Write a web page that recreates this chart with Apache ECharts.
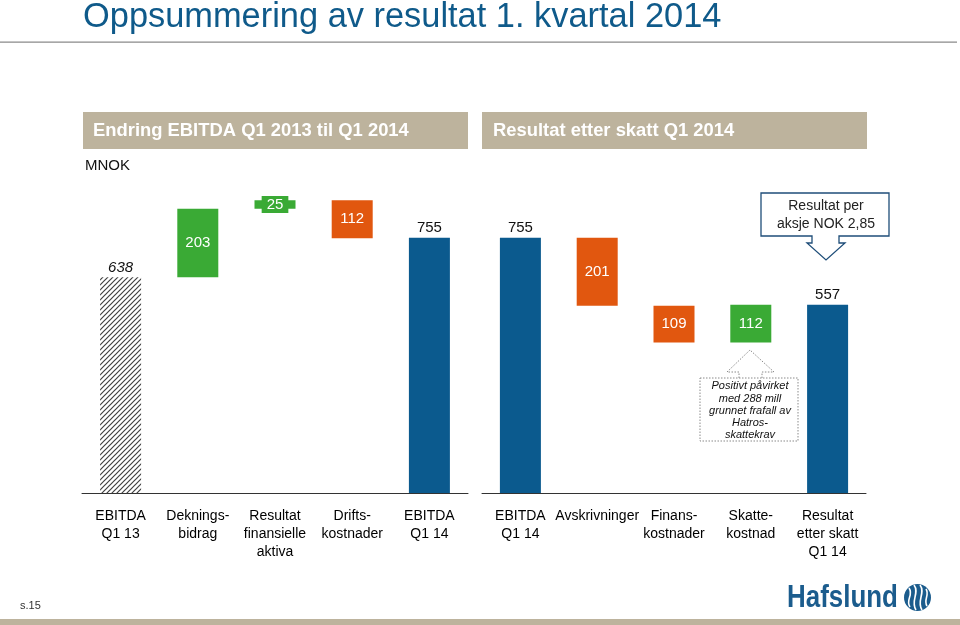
<!DOCTYPE html>
<html>
<head>
<meta charset="utf-8">
<style>
  html, body { margin: 0; padding: 0; background: #ffffff; }
  #chart { width: 960px; height: 625px; }
</style>
<script src="https://cdn.jsdelivr.net/npm/echarts@6/dist/echarts.min.js"></script>
</head>
<body>
<div id="chart"></div>
<script>
// ---------- data ----------
const leftCategories = ['EBITDA\nQ1 13', 'Deknings-\nbidrag', 'Resultat\nfinansielle\naktiva', 'Drifts-\nkostnader', 'EBITDA\nQ1 14'];
const leftValues = [638, 203, 25, -112, 755];
const leftKinds = ['total', 'delta', 'delta', 'delta', 'total'];

const rightCategories = ['EBITDA\nQ1 14', 'Avskrivninger', 'Finans-\nkostnader', 'Skatte-\nkostnad', 'Resultat\netter skatt\nQ1 14'];
const rightValues = [755, -201, -109, 112, 557];
const rightKinds = ['total', 'delta', 'delta', 'delta', 'total'];

const titleText = 'Oppsummering av resultat 1. kvartal 2014';
const leftHeader = 'Endring EBITDA Q1 2013 til Q1 2014';
const rightHeader = 'Resultat etter skatt Q1 2014';
const unitText = 'MNOK';
const epsNote = 'Resultat per\naksje NOK 2,85';
const taxNote = 'Positivt påvirket\nmed 288 mill\ngrunnet frafall av\nHatros-\nskattekrav';

// ---------- styles ----------
const FONT = '"Liberation Sans", Arial, Helvetica, sans-serif';
const BLUE = '#0B5A8E';
const GREEN = '#3AAA35';
const ORANGE = '#E1570F';
const TAN = '#BDB39D';

function hatchPattern() {
  const s = 5;
  const c = document.createElement('canvas');
  c.width = s; c.height = s;
  const g = c.getContext('2d');
  g.fillStyle = '#ffffff';
  g.fillRect(0, 0, s, s);
  g.strokeStyle = '#404040';
  g.lineWidth = 1.2;
  g.beginPath();
  g.moveTo(-1, s + 1); g.lineTo(s + 1, -1);
  g.moveTo(-1, 1); g.lineTo(1, -1);
  g.moveTo(s - 1, s + 1); g.lineTo(s + 1, s - 1);
  g.stroke();
  return { image: c, repeat: 'repeat' };
}

function waterfall(values, kinds, hatchFirst) {
  const base = [], bars = [];
  let running = 0;
  values.forEach((v, i) => {
    let b, h, color, label;
    if (kinds[i] === 'total') {
      running = v; b = 0; h = v;
      color = BLUE;
      label = { show: true, position: 'top', distance: 2, color: '#111', fontSize: 15, fontFamily: FONT };
      if (hatchFirst && i === 0) {
        color = hatchPattern();
        label.fontStyle = 'italic';
      }
    } else {
      if (v >= 0) { b = running; h = v; color = GREEN; }
      else { b = running + v; h = -v; color = ORANGE; }
      running += v;
      label = { show: true, position: 'inside', color: '#fff', fontSize: 15, fontFamily: FONT };
      if (h < 40) {
        label.backgroundColor = color;
        label.padding = [1, 5, 1, 5];
      }
    }
    base.push(b);
    bars.push({ value: h, itemStyle: { color: color }, label: label });
  });
  return { base, bars };
}

const L = waterfall(leftValues, leftKinds, true);
const R = waterfall(rightValues, rightKinds, false);

const axisLabelStyle = { interval: 0, color: '#000', fontSize: 14, lineHeight: 18, margin: 14, fontFamily: FONT };

const chart = echarts.init(document.getElementById('chart'));
chart.setOption({
  animation: false,
  backgroundColor: '#ffffff',
  grid: [
    { left: 82, width: 386, top: 155, bottom: 132 },
    { left: 482, width: 384, top: 155, bottom: 132 }
  ],
  xAxis: [
    { type: 'category', gridIndex: 0, data: leftCategories, axisTick: { show: false },
      axisLine: { lineStyle: { color: '#333', width: 1 } }, axisLabel: axisLabelStyle },
    { type: 'category', gridIndex: 1, data: rightCategories, axisTick: { show: false },
      axisLine: { lineStyle: { color: '#333', width: 1 } }, axisLabel: axisLabelStyle }
  ],
  yAxis: [
    { type: 'value', gridIndex: 0, min: 0, max: 1000, show: false, splitLine: { show: false } },
    { type: 'value', gridIndex: 1, min: 0, max: 1000, show: false, splitLine: { show: false } }
  ],
  series: [
    { type: 'bar', xAxisIndex: 0, yAxisIndex: 0, stack: 'L', data: L.base, barWidth: 41,
      itemStyle: { color: 'transparent' }, silent: true },
    { type: 'bar', xAxisIndex: 0, yAxisIndex: 0, stack: 'L', data: L.bars, barWidth: 41 },
    { type: 'bar', xAxisIndex: 1, yAxisIndex: 1, stack: 'R', data: R.base, barWidth: 41,
      itemStyle: { color: 'transparent' }, silent: true },
    { type: 'bar', xAxisIndex: 1, yAxisIndex: 1, stack: 'R', data: R.bars, barWidth: 41 }
  ],
  graphic: [
    // title
    { type: 'text', x: 83, y: 1, style: { text: titleText, font: '34.4px ' + FONT, fill: '#0F5A8A' } },
    { type: 'rect', shape: { x: 0, y: 41.5, width: 957, height: 1.2 }, style: { fill: '#8a8a8a' } },
    // headers
    { type: 'rect', shape: { x: 83, y: 112, width: 385, height: 37 }, style: { fill: TAN } },
    { type: 'text', x: 93, y: 122, style: { text: leftHeader, font: 'bold 18.4px ' + FONT, fill: '#ffffff' } },
    { type: 'rect', shape: { x: 482, y: 112, width: 385, height: 37 }, style: { fill: TAN } },
    { type: 'text', x: 493, y: 122, style: { text: rightHeader, font: 'bold 18.4px ' + FONT, fill: '#ffffff' } },
    { type: 'text', x: 85, y: 158, style: { text: unitText, font: '15px ' + FONT, fill: '#111' } },
    // EPS callout
    { type: 'polygon', shape: { points: [[761, 193], [889, 193], [889, 236], [839, 236], [839, 243], [845, 243], [826, 260], [807, 243], [812, 243], [812, 236], [761, 236]] },
      style: { fill: '#ffffff', stroke: '#1F4E79', lineWidth: 1.3 } },
    { type: 'text', x: 826, y: 197, style: { text: epsNote, font: '14px ' + FONT, fill: '#222', align: 'center', lineHeight: 18 } },
    // tax note (dotted)
    { type: 'polyline', shape: { points: [[739, 378], [739, 372], [727, 372], [750, 350], [774, 372], [762, 372], [762, 378]] },
      style: { fill: 'none', stroke: '#8a8a8a', lineWidth: 1, lineDash: [1.5, 1.5] } },
    { type: 'rect', shape: { x: 700, y: 378, width: 98, height: 63 },
      style: { fill: 'none', stroke: '#8a8a8a', lineWidth: 1, lineDash: [1.5, 1.5] } },
    { type: 'text', x: 750, y: 380, style: { text: taxNote, font: 'italic 11px ' + FONT, fill: '#111', align: 'center', lineHeight: 12.3 } },
    // footer
    { type: 'text', x: 20, y: 600, style: { text: 's.15', font: '11px ' + FONT, fill: '#333' } },
    { type: 'rect', shape: { x: 0, y: 619, width: 960, height: 6 }, style: { fill: TAN } },
    { type: 'text', x: 787, y: 582, scaleX: 0.81, style: { text: 'Hafslund', font: 'bold 32px ' + FONT, fill: '#1B5C8D' } },
    { type: 'circle', shape: { cx: 917.5, cy: 597.5, r: 13.5 }, style: { fill: '#1B5C8D' } },
    { type: 'bezierCurve', shape: { x1: 909, y1: 588, x2: 910, y2: 607, cpx1: 914, cpy1: 595, cpx2: 905, cpy2: 600 }, style: { stroke: '#ffffff', lineWidth: 1.6, fill: 'none' } },
    { type: 'bezierCurve', shape: { x1: 914, y1: 585, x2: 916, y2: 610, cpx1: 920, cpy1: 593, cpx2: 910, cpy2: 601 }, style: { stroke: '#ffffff', lineWidth: 1.6, fill: 'none' } },
    { type: 'bezierCurve', shape: { x1: 920, y1: 585, x2: 922, y2: 610, cpx1: 926, cpy1: 593, cpx2: 916, cpy2: 601 }, style: { stroke: '#ffffff', lineWidth: 1.6, fill: 'none' } },
    { type: 'bezierCurve', shape: { x1: 926, y1: 589, x2: 927, y2: 606, cpx1: 930, cpy1: 595, cpx2: 923, cpy2: 600 }, style: { stroke: '#ffffff', lineWidth: 1.6, fill: 'none' } }
  ]
});
</script>
</body>
</html>
